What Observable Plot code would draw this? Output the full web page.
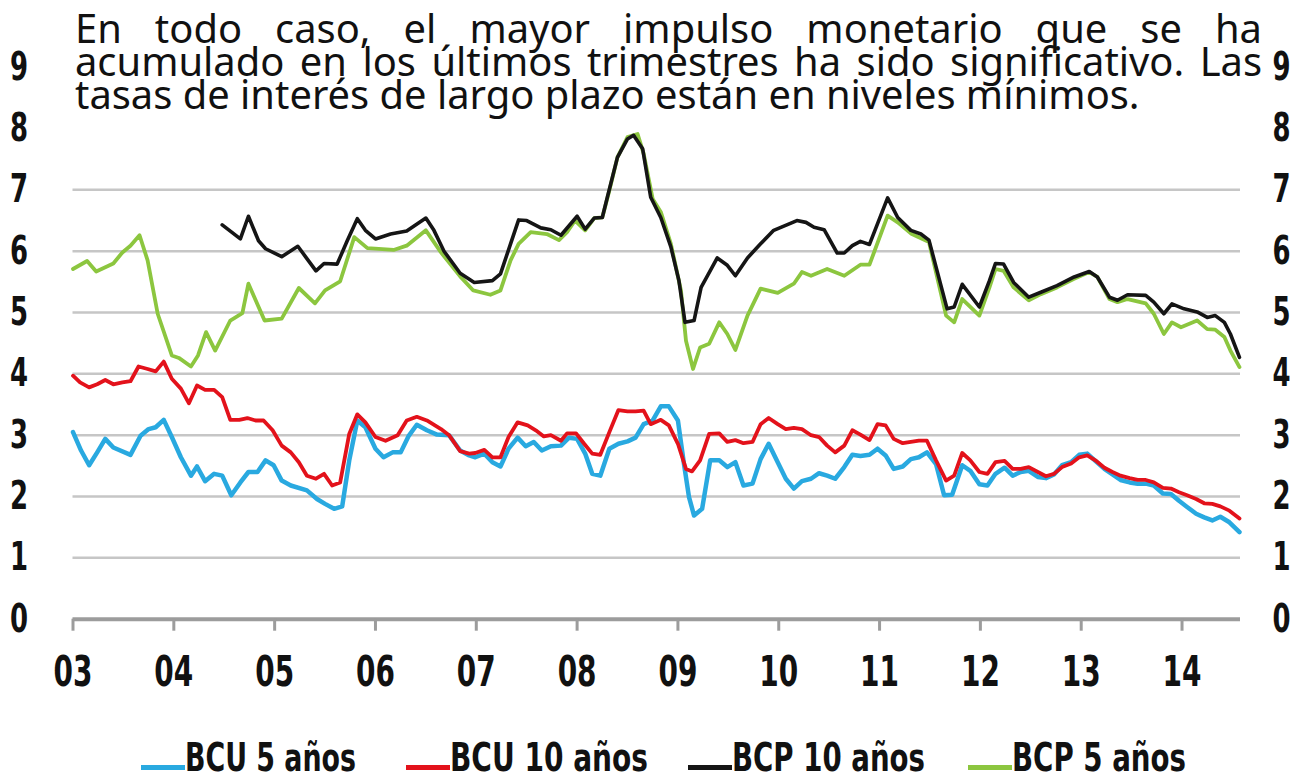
<!DOCTYPE html>
<html>
<head>
<meta charset="utf-8">
<script src="https://cdn.jsdelivr.net/npm/d3@7"></script>
<script src="https://cdn.jsdelivr.net/npm/@observablehq/plot@0.6"></script>
<style>
  html, body { margin: 0; padding: 0; background: #fff; }
  #wrap { position: relative; width: 1299px; height: 781px; overflow: hidden; }
  #title { position: absolute; left: 72px; top: 0; width: 1190px; height: 131px; background: #fff;
           font-family: "Noto Sans", "Open Sans", sans-serif; color: #111; }
  #title .ln { position: absolute; left: 3px; width: 1187px; white-space: nowrap; line-height: 33px; }
  #title .j { text-align: justify; text-align-last: justify; white-space: normal; }
  #measure { position: absolute; left: 0; top: 0; visibility: hidden; white-space: nowrap;
             font-family: "Noto Sans", "Open Sans", sans-serif; font-size: 20px; }
  #legend { position: absolute; left: 0; top: 720px; width: 1299px; height: 61px; }
  .item { position: absolute; top: 0; width: 320px; height: 61px; white-space: nowrap;
          font-family: "Liberation Sans Narrow", "DejaVu Sans Condensed", "DejaVu Sans", sans-serif;
          font-size: 39px; font-weight: bold; color: #111; }
  .item .dash { position: absolute; height: 5px; top: 45px; left: 0; }
  .item .txt { position: absolute; top: 20px; line-height: 36px; transform-origin: left center; }
</style>
</head>
<body>
<div id="wrap">
  <div id="chart"></div>
  <div id="title"></div>
  <div id="legend"></div>
  <span id="measure"></span>
</div>
<script>
// ---- data (year, percent) ----
const titleLines = [
  "En todo caso, el mayor impulso monetario que se ha",
  "acumulado en los últimos trimestres ha sido significativo. Las",
  "tasas de interés de largo plazo están en niveles mínimos."
];
const yearTicks = [2003,2004,2005,2006,2007,2008,2009,2010,2011,2012,2013,2014];
const yearLabels = ["03","04","05","06","07","08","09","10","11","12","13","14"];
const yTicks = [0,1,2,3,4,5,6,7,8,9];
const gridValues = [1,2,3,4,5,6,7,8];
const seriesNames = ["BCU 5 años","BCU 10 años","BCP 10 años","BCP 5 años"];
const seriesColors = ["#29a9e0","#e3121b","#151515","#8cc63f"];

const bcu5 = [
[2003.00,3.05],[2003.08,2.75],[2003.16,2.51],[2003.24,2.72],[2003.32,2.94],[2003.40,2.80],[2003.57,2.68],
[2003.67,2.99],[2003.75,3.10],[2003.82,3.13],[2003.90,3.25],[2003.98,2.97],[2004.07,2.64],[2004.17,2.34],
[2004.23,2.49],[2004.31,2.25],[2004.40,2.37],[2004.48,2.34],[2004.57,2.02],[2004.66,2.23],[2004.74,2.40],
[2004.83,2.40],[2004.91,2.59],[2004.99,2.51],[2005.07,2.26],[2005.16,2.18],[2005.32,2.10],[2005.42,1.96],
[2005.50,1.88],[2005.59,1.80],[2005.67,1.84],[2005.74,2.59],[2005.82,3.24],[2005.90,3.13],[2006.00,2.78],
[2006.08,2.64],[2006.17,2.72],[2006.25,2.72],[2006.33,2.99],[2006.41,3.17],[2006.51,3.08],[2006.61,3.01],
[2006.73,3.00],[2006.84,2.75],[2006.93,2.67],[2006.99,2.64],[2007.08,2.70],[2007.16,2.56],[2007.24,2.49],
[2007.32,2.78],[2007.41,2.96],[2007.49,2.82],[2007.57,2.89],[2007.65,2.75],[2007.74,2.82],[2007.84,2.83],
[2007.92,2.96],[2008.00,2.94],[2008.08,2.70],[2008.15,2.37],[2008.23,2.34],[2008.32,2.78],[2008.41,2.86],
[2008.50,2.90],[2008.58,2.96],[2008.66,3.18],[2008.75,3.24],[2008.83,3.47],[2008.91,3.47],[2009.00,3.24],
[2009.06,2.53],[2009.11,1.99],[2009.16,1.69],[2009.24,1.80],[2009.32,2.59],[2009.41,2.59],[2009.49,2.48],
[2009.57,2.56],[2009.65,2.18],[2009.74,2.21],[2009.82,2.61],[2009.90,2.86],[2009.98,2.59],[2010.07,2.29],
[2010.15,2.13],[2010.23,2.25],[2010.32,2.29],[2010.40,2.38],[2010.48,2.34],[2010.56,2.29],[2010.65,2.48],
[2010.73,2.68],[2010.81,2.66],[2010.90,2.68],[2010.98,2.78],[2011.06,2.67],[2011.14,2.45],[2011.23,2.49],
[2011.31,2.61],[2011.39,2.64],[2011.47,2.72],[2011.56,2.53],[2011.64,2.02],[2011.72,2.03],[2011.82,2.51],
[2011.90,2.42],[2011.99,2.20],[2012.07,2.18],[2012.15,2.37],[2012.24,2.47],[2012.32,2.34],[2012.40,2.40],
[2012.48,2.42],[2012.57,2.32],[2012.65,2.30],[2012.73,2.36],[2012.81,2.51],[2012.90,2.56],[2012.98,2.68],
[2013.06,2.70],[2013.14,2.58],[2013.23,2.45],[2013.31,2.36],[2013.39,2.27],[2013.48,2.23],[2013.56,2.21],
[2013.64,2.21],[2013.72,2.18],[2013.81,2.05],[2013.89,2.04],[2013.97,1.93],[2014.05,1.83],[2014.14,1.72],
[2014.22,1.66],[2014.30,1.61],[2014.38,1.67],[2014.47,1.58],[2014.57,1.42]
];
const bcu10 = [
[2003.00,3.97],[2003.07,3.86],[2003.16,3.78],[2003.24,3.83],[2003.32,3.90],[2003.40,3.83],[2003.49,3.86],
[2003.57,3.88],[2003.65,4.12],[2003.74,4.08],[2003.82,4.04],[2003.90,4.20],[2003.98,3.92],[2004.07,3.76],
[2004.15,3.52],[2004.23,3.81],[2004.31,3.74],[2004.40,3.74],[2004.48,3.62],[2004.56,3.25],[2004.65,3.25],
[2004.73,3.28],[2004.81,3.24],[2004.89,3.24],[2004.98,3.08],[2005.07,2.83],[2005.16,2.72],[2005.24,2.56],
[2005.32,2.34],[2005.41,2.29],[2005.49,2.37],[2005.57,2.18],[2005.65,2.23],[2005.74,3.02],[2005.82,3.34],
[2005.90,3.21],[2006.00,2.97],[2006.10,2.91],[2006.22,3.00],[2006.31,3.24],[2006.41,3.30],[2006.51,3.24],
[2006.65,3.10],[2006.73,3.00],[2006.84,2.74],[2006.93,2.70],[2006.99,2.71],[2007.08,2.76],[2007.16,2.64],
[2007.24,2.64],[2007.32,2.97],[2007.41,3.21],[2007.51,3.16],[2007.59,3.08],[2007.67,2.98],[2007.74,3.00],
[2007.84,2.91],[2007.90,3.03],[2007.99,3.03],[2008.07,2.86],[2008.15,2.70],[2008.23,2.68],[2008.32,3.05],
[2008.41,3.41],[2008.50,3.39],[2008.58,3.39],[2008.66,3.40],[2008.73,3.18],[2008.83,3.25],[2008.91,3.16],
[2009.00,2.86],[2009.08,2.45],[2009.14,2.41],[2009.22,2.59],[2009.31,3.02],[2009.41,3.03],[2009.49,2.89],
[2009.57,2.92],[2009.65,2.87],[2009.74,2.89],[2009.82,3.18],[2009.90,3.28],[2009.99,3.18],[2010.07,3.10],
[2010.15,3.12],[2010.23,3.10],[2010.32,3.00],[2010.40,2.97],[2010.48,2.83],[2010.56,2.72],[2010.65,2.83],
[2010.73,3.08],[2010.81,3.01],[2010.90,2.92],[2010.98,3.18],[2011.06,3.16],[2011.14,2.94],[2011.23,2.87],
[2011.31,2.89],[2011.39,2.91],[2011.47,2.91],[2011.56,2.59],[2011.66,2.26],[2011.74,2.34],[2011.82,2.71],
[2011.90,2.59],[2011.99,2.40],[2012.07,2.37],[2012.15,2.56],[2012.24,2.58],[2012.32,2.45],[2012.40,2.45],
[2012.48,2.48],[2012.57,2.40],[2012.65,2.33],[2012.73,2.37],[2012.81,2.48],[2012.90,2.54],[2012.98,2.64],
[2013.06,2.67],[2013.14,2.59],[2013.23,2.47],[2013.31,2.40],[2013.39,2.34],[2013.48,2.30],[2013.56,2.27],
[2013.64,2.27],[2013.72,2.23],[2013.81,2.14],[2013.89,2.13],[2013.97,2.07],[2014.05,2.02],[2014.14,1.96],
[2014.22,1.89],[2014.30,1.88],[2014.38,1.84],[2014.47,1.77],[2014.57,1.64]
];
const bcp10 = [
[2004.48,6.43],[2004.66,6.20],[2004.74,6.57],[2004.84,6.17],[2004.91,6.04],[2005.07,5.91],[2005.23,6.08],
[2005.32,5.88],[2005.41,5.68],[2005.49,5.80],[2005.62,5.79],[2005.72,6.17],[2005.82,6.53],[2005.90,6.34],
[2006.00,6.20],[2006.15,6.28],[2006.31,6.33],[2006.50,6.54],[2006.58,6.34],[2006.68,6.00],[2006.84,5.64],
[2006.98,5.49],[2007.16,5.52],[2007.24,5.63],[2007.34,6.12],[2007.42,6.51],[2007.50,6.50],[2007.64,6.38],
[2007.74,6.35],[2007.84,6.26],[2008.00,6.57],[2008.08,6.36],[2008.17,6.54],[2008.25,6.55],[2008.30,6.88],
[2008.40,7.53],[2008.50,7.83],[2008.56,7.89],[2008.65,7.67],[2008.73,6.88],[2008.83,6.55],[2008.93,6.07],
[2009.01,5.52],[2009.07,4.84],[2009.16,4.87],[2009.23,5.41],[2009.39,5.89],[2009.49,5.77],[2009.57,5.60],
[2009.69,5.89],[2009.82,6.12],[2009.95,6.34],[2010.08,6.43],[2010.18,6.50],[2010.27,6.47],[2010.35,6.39],
[2010.45,6.35],[2010.58,5.97],[2010.65,5.97],[2010.73,6.09],[2010.81,6.16],[2010.90,6.11],[2011.08,6.87],
[2011.18,6.55],[2011.31,6.34],[2011.41,6.28],[2011.49,6.18],[2011.67,5.06],[2011.74,5.09],[2011.82,5.46],
[2011.99,5.09],[2012.09,5.52],[2012.15,5.80],[2012.23,5.79],[2012.33,5.49],[2012.48,5.25],[2012.60,5.33],
[2012.76,5.44],[2012.93,5.58],[2013.08,5.67],[2013.16,5.58],[2013.28,5.25],[2013.36,5.20],[2013.46,5.29],
[2013.64,5.28],[2013.72,5.17],[2013.82,4.98],[2013.90,5.14],[2014.02,5.06],[2014.15,5.01],[2014.25,4.92],
[2014.33,4.95],[2014.42,4.84],[2014.48,4.65],[2014.57,4.27]
];
const bcp5 = [
[2003.00,5.71],[2003.14,5.84],[2003.23,5.67],[2003.40,5.80],[2003.49,5.98],[2003.57,6.09],[2003.66,6.26],
[2003.74,5.85],[2003.84,4.98],[2003.98,4.30],[2004.05,4.26],[2004.17,4.12],[2004.24,4.30],[2004.32,4.68],
[2004.41,4.38],[2004.56,4.87],[2004.68,4.99],[2004.74,5.47],[2004.90,4.87],[2005.07,4.90],[2005.24,5.40],
[2005.40,5.15],[2005.50,5.36],[2005.65,5.51],[2005.79,6.23],[2005.92,6.05],[2006.18,6.02],[2006.31,6.09],
[2006.50,6.34],[2006.65,5.98],[2006.84,5.59],[2006.97,5.36],[2007.14,5.29],[2007.24,5.36],[2007.34,5.85],
[2007.42,6.12],[2007.54,6.31],[2007.70,6.28],[2007.82,6.18],[2007.90,6.31],[2007.98,6.50],[2008.08,6.34],
[2008.17,6.54],[2008.25,6.55],[2008.32,6.99],[2008.40,7.53],[2008.50,7.86],[2008.60,7.91],[2008.66,7.59],
[2008.75,6.85],[2008.83,6.64],[2008.93,6.12],[2009.03,5.36],[2009.08,4.54],[2009.15,4.08],[2009.22,4.43],
[2009.31,4.49],[2009.41,4.84],[2009.49,4.65],[2009.57,4.39],[2009.69,4.95],[2009.82,5.39],[2009.99,5.32],
[2010.15,5.47],[2010.23,5.66],[2010.32,5.60],[2010.48,5.71],[2010.65,5.60],[2010.81,5.78],[2010.90,5.78],
[2011.08,6.58],[2011.18,6.47],[2011.31,6.29],[2011.49,6.15],[2011.66,4.95],[2011.74,4.84],[2011.82,5.22],
[2011.99,4.95],[2012.09,5.41],[2012.15,5.71],[2012.23,5.68],[2012.33,5.41],[2012.48,5.20],[2012.60,5.30],
[2012.76,5.41],[2012.93,5.55],[2013.08,5.66],[2013.16,5.58],[2013.28,5.22],[2013.36,5.17],[2013.46,5.22],
[2013.64,5.15],[2013.72,4.98],[2013.82,4.65],[2013.90,4.84],[2013.99,4.76],[2014.15,4.87],[2014.25,4.73],
[2014.33,4.72],[2014.42,4.60],[2014.48,4.38],[2014.57,4.11]
];

// ---- chart ----
const axisFont = "'Liberation Sans Narrow', 'DejaVu Sans Condensed', 'DejaVu Sans', sans-serif";
const toRows = arr => arr.map(([t, v]) => ({t, v}));
const lineOf = (arr, i, w) => Plot.line(toRows(arr), {x: "t", y: "v", stroke: seriesColors[i], strokeWidth: w, strokeLinejoin: "round", strokeLinecap: "round"});

const chart = Plot.plot({
  width: 1299,
  height: 720,
  marginLeft: 72.5,
  marginRight: 59,
  marginTop: 66.7,
  marginBottom: 101.3,
  x: {domain: [2003, 2014.58], axis: null},
  y: {domain: [0, 9], axis: null},
  marks: [
    Plot.ruleY(gridValues, {stroke: "#c6c6c6", strokeWidth: 2.5}),
    Plot.ruleY([0], {stroke: "#9c9c9c", strokeWidth: 4}),
    Plot.ruleX(yearTicks, {x: d => d, y1: 0, y2: 0, stroke: "#9c9c9c", strokeWidth: 3, insetBottom: -12}),
    Plot.text(yearLabels, {x: (d, i) => yearTicks[i], text: d => d, frameAnchor: "bottom", dy: 53,
      lineAnchor: "middle", textAnchor: "middle", fontSize: 42, fontWeight: "bold", fontFamily: axisFont, fill: "#111"}),
    Plot.text(yTicks, {y: d => d, text: d => String(d), frameAnchor: "left", dx: -54, textAnchor: "middle",
      lineAnchor: "middle", fontSize: 39, fontWeight: "bold", fontFamily: axisFont, fill: "#111"}),
    Plot.text(yTicks, {y: d => d, text: d => String(d), frameAnchor: "right", dx: 41, textAnchor: "middle",
      lineAnchor: "middle", fontSize: 39, fontWeight: "bold", fontFamily: axisFont, fill: "#111"}),
    lineOf(bcu5, 0, 4.5),
    lineOf(bcu10, 1, 3.8),
    lineOf(bcp5, 3, 3.8),
    lineOf(bcp10, 2, 3.6)
  ]
});
document.getElementById("chart").appendChild(chart);

// narrow the axis labels horizontally (condensed look), keeping their anchor points
const isNum = s => s != null && s.trim() !== "" && isFinite(+s);
chart.querySelectorAll("text").forEach(el => {
  const xs = el.getAttribute("x"), ys = el.getAttribute("y");
  let tx = 0, ty = 0;
  if (isNum(xs)) { tx = +xs; el.removeAttribute("x"); }
  if (isNum(ys)) { ty = +ys; el.removeAttribute("y"); }
  const tr = el.getAttribute("transform") || "";
  el.setAttribute("transform", `${tr} translate(${tx},${ty}) scale(0.74,1)`);
});

// ---- title ----
const title = document.getElementById("title");
const measure = document.getElementById("measure");
measure.textContent = titleLines[2];
const w20 = measure.getBoundingClientRect().width;
measure.remove();
const fs = w20 > 0 ? 20 * 1065 / w20 : 34;
const tops = [11, 44, 77];
titleLines.forEach((s, i) => {
  const d = document.createElement("div");
  d.className = "ln" + (i < 2 ? " j" : "");
  d.style.top = tops[i] + "px";
  d.style.fontSize = fs + "px";
  d.textContent = s;
  title.appendChild(d);
});

// ---- legend ----
const legend = document.getElementById("legend");
const legendLeft = [141, 406, 688, 968];
const legendTextW = [171, 198, 193, 174];
seriesNames.forEach((name, i) => {
  const it = document.createElement("div");
  it.className = "item";
  it.style.left = legendLeft[i] + "px";
  const dash = document.createElement("div");
  dash.className = "dash";
  dash.style.width = "44px";
  dash.style.background = seriesColors[i];
  const t = document.createElement("span");
  t.className = "txt";
  t.style.left = "44px";
  t.textContent = name;
  it.appendChild(dash); it.appendChild(t);
  legend.appendChild(it);
  const w = t.getBoundingClientRect().width;
  if (w > 0) t.style.transform = "scaleX(" + (legendTextW[i] / w) + ")";
});
</script>
</body>
</html>
